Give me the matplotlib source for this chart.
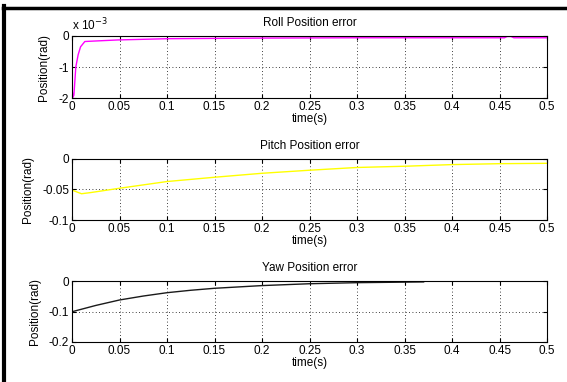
import numpy as np
import matplotlib
matplotlib.use('Agg')
from matplotlib import pyplot as plt
from matplotlib.lines import Line2D

plt.rcParams['font.family'] = ['Liberation Sans', 'DejaVu Sans']
plt.rcParams['font.size'] = 8.5

# roll error (rad)
roll_t = [0, 0.001, 0.002, 0.004, 0.0065, 0.009, 0.0135, 0.02, 0.048, 0.1, 0.2, 0.3,
          0.455, 0.458, 0.462, 0.465, 0.5]
roll_v = [-1.68e-3, -1.97e-3, -1.9e-3, -1.0e-3, -0.6e-3, -0.35e-3, -0.18e-3, -0.17e-3,
          -0.13e-3, -0.09e-3, -0.07e-3, -0.06e-3, -0.06e-3, -0.02e-3, -0.02e-3, -0.06e-3,
          -0.06e-3]

# pitch error (rad)
pitch_t = [0, 0.01, 0.02, 0.05, 0.1, 0.15, 0.2, 0.25, 0.3, 0.35, 0.4, 0.45, 0.5]
pitch_v = [-0.051, -0.057, -0.055, -0.048, -0.037, -0.030, -0.0235, -0.0185, -0.014,
           -0.0120, -0.0093, -0.0078, -0.0072]

# yaw error (rad)
yaw_t = [0, 0.025, 0.05, 0.075, 0.1, 0.125, 0.15, 0.2, 0.25, 0.3, 0.37]
yaw_v = [-0.1007, -0.080, -0.062, -0.049, -0.038, -0.030, -0.0235, -0.0146, -0.0085,
         -0.0050, -0.0025]

xticks = [0, 0.05, 0.1, 0.15, 0.2, 0.25, 0.3, 0.35, 0.4, 0.45, 0.5]
xticklabels = ['0', '0.05', '0.1', '0.15', '0.2', '0.25', '0.3', '0.35', '0.4', '0.45', '0.5']

panels = [
    ('Roll Position error', roll_t, roll_v, '#ff00ff', (-2e-3, 0), [-2e-3, -1e-3, 0], ['-2', '-1', '0']),
    ('Pitch Position error', pitch_t, pitch_v, '#ffff00', (-0.1, 0), [-0.1, -0.05, 0], ['-0.1', '-0.05', '0']),
    ('Yaw Position error', yaw_t, yaw_v, '#1a1a1a', (-0.2, 0), [-0.2, -0.1, 0], ['-0.2', '-0.1', '0']),
]
boxes = [[0.127, 0.743, 0.838, 0.163],
         [0.127, 0.424, 0.838, 0.160],
         [0.127, 0.105, 0.838, 0.159]]

fig = plt.figure(figsize=(5.67, 3.82), dpi=100)

for box, (title, t, v, color, ylim, yt, ytl) in zip(boxes, panels):
    ax = fig.add_axes(box)
    ax.plot(t, v, color=color, lw=1.0)
    ax.set_xlim(0, 0.5)
    ax.set_ylim(*ylim)
    ax.set_xticks(xticks)
    ax.set_xticklabels(xticklabels)
    ax.set_yticks(yt)
    ax.set_yticklabels(ytl)
    ax.grid(True, color='black', linestyle=(0, (1, 3)), lw=0.6)
    ax.tick_params(direction='in', top=True, right=True, length=3, width=0.8, pad=2)
    for s in ax.spines.values():
        s.set_linewidth(0.8)
    ax.set_title(title, fontsize=8.5, pad=7)
    ax.set_xlabel('time(s)', labelpad=0)
    ax.set_ylabel('Position(rad)', labelpad=6)

fig.axes[0].text(0, 1.04, r'x 10$^{-3}$', transform=fig.axes[0].transAxes,
                 ha='left', va='bottom', fontsize=8.5)

# window frame
fig.add_artist(Line2D([4 / 567, 4 / 567], [0, 1 - 6 / 382], color='black', lw=3))
fig.add_artist(Line2D([3 / 567, 1], [1 - 7.5 / 382, 1 - 7.5 / 382], color='black', lw=2.5))

fig.savefig('out.png', dpi=100)
